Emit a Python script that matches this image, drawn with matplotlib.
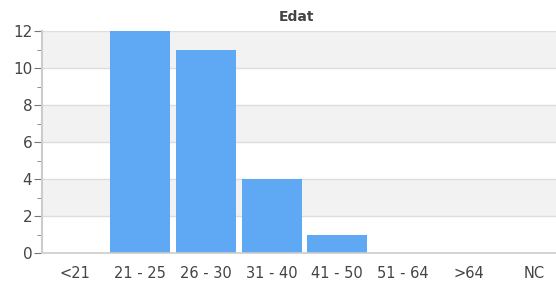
import numpy as np
import matplotlib
matplotlib.use('Agg')
import matplotlib.pyplot as plt

categories = ['<21', '21 - 25', '26 - 30', '31 - 40', '41 - 50', '51 - 64', '>64', 'NC']
counts = [0, 12, 11, 4, 1, 0, 0, 0]


def plot():
  fig = plt.figure(figsize=(5.56, 2.83), dpi=100)
  ax = fig.add_axes([42 / 556, 1 - 253 / 283, 1 - 42 / 556, 222 / 283])
  x = np.arange(len(categories))

  # alternating background bands
  for lo in range(2, 12, 4):
    ax.axhspan(lo, lo + 2, color='#f2f2f2', zorder=0, lw=0)
  for y in range(2, 13, 2):
    ax.axhline(y, color='#dddddd', lw=1, zorder=1)

  ax.bar(x, counts, width=0.915, color='#5fa8f3', zorder=2)

  ax.set_xlim(-0.5, -0.5 + 514 / 65.6)
  ax.set_ylim(0, 12)
  ax.set_xticks(x)
  ax.set_xticklabels(categories)
  ax.set_yticks(range(0, 13, 2))
  ax.set_yticks(range(1, 12, 2), minor=True)
  ax.tick_params(axis='x', length=0, pad=9, labelsize=10.5, labelcolor='#444444')
  ax.tick_params(axis='y', which='major', length=5.5, color='#777777', labelsize=11, labelcolor='#444444', pad=1.5)
  ax.tick_params(axis='y', which='minor', length=3.5, color='#777777')
  for s in ['top', 'right']:
    ax.spines[s].set_visible(False)
  ax.spines['left'].set_color('#cccccc')
  ax.spines['bottom'].set_color('#cccccc')
  ax.spines['left'].set_linewidth(1.5)
  ax.spines['bottom'].set_linewidth(1.2)

  fig.text(296 / 556, 1 - 17 / 283, 'Edat', ha='center', va='center',
           fontsize=10, fontweight='bold', color='#444444')
  fig.savefig('out.png', dpi=100)


if __name__ == '__main__':
  plot()
